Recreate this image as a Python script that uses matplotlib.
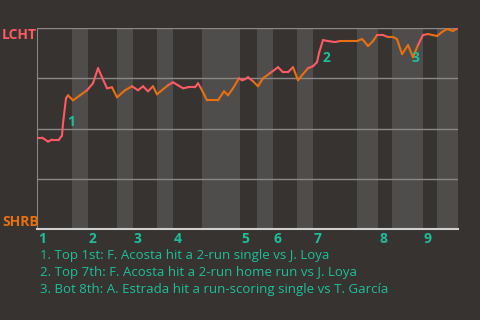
import matplotlib
matplotlib.use('Agg')
import matplotlib.pyplot as plt
import numpy as np

# win probability for LCHT (1 = LCHT wins), x = play position along the game
play_x = [0, 5, 11, 15, 22, 25, 26, 29, 31,
          36, 43, 50,
          56, 61, 65, 70, 75, 80,
          88, 95,
          101, 106, 111, 116, 120,
          126, 131, 136,
          141, 146, 151, 158, 161, 164,
          170, 181, 187, 191, 196, 202,
          205, 208, 211, 216,
          221, 226, 233,
          241, 246, 251, 256, 261,
          265, 271,
          276, 280, 282, 286, 291, 298, 303, 320,
          325, 327, 331, 336, 340,
          346, 351, 356,
          360, 365, 371, 376, 381, 386,
          391, 400,
          405, 410, 416, 419, 421]
wp = [0.455, 0.455, 0.435, 0.445, 0.445, 0.465, 0.525, 0.65, 0.665,
      0.64, 0.665, 0.69,
      0.725, 0.80, 0.755, 0.70, 0.705, 0.655,
      0.69, 0.71,
      0.69, 0.71, 0.685, 0.71, 0.67,
      0.695, 0.715, 0.73,
      0.715, 0.70, 0.705, 0.705, 0.725, 0.70,
      0.64, 0.64, 0.685, 0.665, 0.70, 0.75,
      0.74, 0.745, 0.755, 0.735,
      0.71, 0.75, 0.775,
      0.805, 0.78, 0.78, 0.805, 0.74,
      0.765, 0.80,
      0.81, 0.83, 0.875, 0.94, 0.935, 0.93, 0.935, 0.935,
      0.945, 0.935, 0.91, 0.935, 0.965,
      0.965, 0.955, 0.955,
      0.945, 0.87, 0.915, 0.855, 0.915, 0.965,
      0.97, 0.96,
      0.98, 0.995, 0.985, 0.995, 1.0]

# half-inning starts (top of 1st .. bottom of 9th) and game end
half_starts = [0, 35, 51, 80, 96, 120, 136, 165, 203, 220, 236, 260, 276, 320, 341, 355, 386, 400, 421]
innings = ['1', '2', '3', '4', '5', '6', '7', '8', '9']

events_x = [30, 286, 374]
events_y = [0.565, 0.885, 0.885]
events_txt = ['1', '2', '3']
captions = ['1. Top 1st: F. Acosta hit a 2-run single vs J. Loya',
            '2. Top 7th: F. Acosta hit a 2-run home run vs J. Loya',
            '3. Bot 8th: A. Estrada hit a run-scoring single vs T. García']

bg = '#363330'
band = '#4f4d4b'
red = '#ff5a64'
orange = '#e8700f'
teal = '#1dbf9a'
font = ['Open Sans', 'DejaVu Sans']

fig = plt.figure(figsize=(4.8, 3.2), dpi=100, facecolor=bg)
ax = fig.add_axes([37/480, 1 - 229/320, 421/480, 201/320])
ax.set_facecolor(bg)
ax.set_xlim(0, 421)
ax.set_ylim(0, 1)

# shade the bottom halves
for i in range(1, len(half_starts) - 1, 2):
    ax.axvspan(half_starts[i], half_starts[i + 1], color=band, lw=0, zorder=0)

for g in [0.25, 0.5, 0.75, 1.0]:
    ax.axhline(g, color='#8a8886', lw=1, zorder=1)

# line coloured by which team is batting
px = np.array(play_x)
py = np.array(wp)
for k in range(1, len(px)):
    half = np.searchsorted(half_starts, px[k], side='right') - 1
    c = red if half % 2 == 0 else orange
    ax.plot(px[k-1:k+1], py[k-1:k+1], color=c, lw=1.5, solid_capstyle='round', zorder=3)

for x, y, t in zip(events_x, events_y, events_txt):
    ax.text(x, y, t, color=teal, fontsize=10, fontweight='bold', family=font,
            ha='left', va='top', zorder=4)

for s in ['top', 'right']:
    ax.spines[s].set_visible(False)
ax.spines['left'].set_color('#8a8886')
ax.spines['bottom'].set_color('#d0d0d0')
ax.spines['bottom'].set_linewidth(1.5)
ax.set_xticks([])
ax.set_yticks([])

# inning numbers under the axis
trans = ax.get_xaxis_transform()
for i, lab in enumerate(innings):
    ax.text(half_starts[2*i] + 1, -0.05, lab, color=teal, fontsize=10, fontweight='bold',
            family=font, ha='left', va='center', transform=trans, clip_on=False)

fig.text(2/480, 1 - 35/320, 'LCHT', color=red, fontsize=10, fontweight='bold',
         family=font, ha='left', va='center')
fig.text(2/480, 1 - 222/320, 'SHRB', color=orange, fontsize=10, fontweight='bold',
         family=font, ha='left', va='center')

for i, c in enumerate(captions):
    fig.text(40/480, 1 - (255 + 17.5*i)/320, c, color=teal, fontsize=9.5,
             family=font, ha='left', va='center')

fig.savefig('out.png', dpi=100, facecolor=bg)
